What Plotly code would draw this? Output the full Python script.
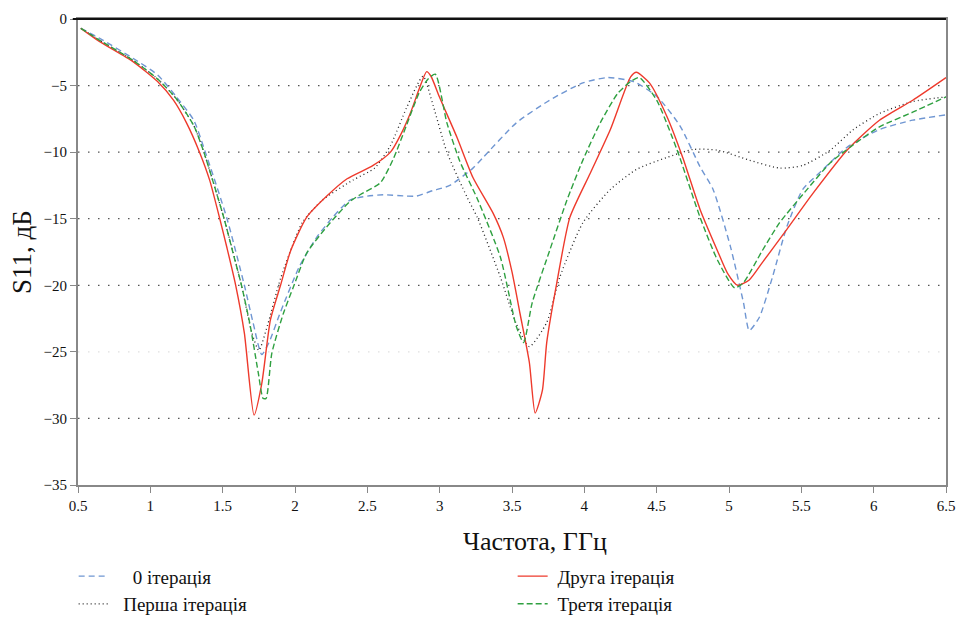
import plotly.graph_objects as go

# ---------------- data ----------------
f_blue = [0.52, 0.65, 0.88, 1.05, 1.18, 1.30, 1.38, 1.53, 1.65, 1.71, 1.77, 1.82, 1.90, 2.03, 2.15, 2.26, 2.38,
          2.50, 2.61, 2.77, 2.84, 2.95, 3.07, 3.23, 3.30, 3.53, 3.76, 3.99, 4.16, 4.34, 4.50, 4.66, 4.80, 4.89,
          5.01, 5.10, 5.14, 5.21, 5.30, 5.40, 5.51, 5.65, 5.82, 6.04, 6.27, 6.50]
s_blue = [-0.7, -1.45, -2.95, -4.2, -5.85, -7.6, -10.0, -15.0, -20.0, -22.8, -25.2, -24.3, -22.0, -18.6, -16.4, -14.9, -13.6,
          -13.3, -13.2, -13.3, -13.3, -12.9, -12.5, -11.2, -10.4, -7.8, -6.1, -4.8, -4.4, -4.7, -5.8, -8.0, -11.1, -12.8,
          -17.1, -21.3, -23.4, -22.4, -19.4, -15.6, -12.8, -11.3, -9.6, -8.3, -7.6, -7.2]

f_black = [0.52, 0.65, 0.88, 1.05, 1.18, 1.30, 1.37, 1.51, 1.63, 1.70, 1.75, 1.81, 1.90, 2.05, 2.19, 2.40, 2.55,
           2.66, 2.77, 2.885, 2.955, 3.05, 3.19, 3.26, 3.42, 3.53, 3.62, 3.74, 3.83, 3.99, 4.18, 4.36, 4.57, 4.75,
           4.92, 5.14, 5.35, 5.51, 5.70, 5.86, 6.04, 6.27, 6.50]
s_black = [-0.7, -1.6, -3.1, -4.5, -6.0, -8.0, -10.0, -15.0, -20.0, -23.5, -24.9, -23.0, -19.5, -15.3, -13.6, -12.1, -11.2,
           -9.5, -6.7, -4.3, -6.5, -10.0, -13.4, -14.9, -19.4, -22.9, -24.6, -22.8, -19.4, -15.3, -12.8, -11.3, -10.4, -9.8,
           -9.85, -10.6, -11.2, -11.0, -9.85, -8.3, -7.1, -6.2, -5.85]

f_red = [0.52, 0.65, 0.88, 1.05, 1.16, 1.25, 1.34, 1.41, 1.48, 1.53, 1.59, 1.65, 1.717, 1.77, 1.83, 1.90, 1.97, 2.08,
         2.22, 2.36, 2.54, 2.66, 2.73, 2.80, 2.86, 2.91, 2.94, 3.00, 3.12, 3.23, 3.37, 3.44, 3.50, 3.555, 3.62, 3.66,
         3.71, 3.74, 3.81, 3.90, 4.04, 4.18, 4.32, 4.36, 4.45, 4.57, 4.68, 4.80, 4.92, 4.99, 5.06, 5.14, 5.23, 5.40,
         5.58, 5.82, 6.04, 6.27, 6.50]
s_red = [-0.7, -1.7, -3.2, -4.7, -6.1, -7.8, -10.0, -12.1, -15.0, -17.2, -20.0, -23.6, -29.75, -27.4, -22.6, -20.0, -17.4, -14.9,
         -13.3, -12.0, -11.0, -10.0, -8.7, -7.0, -5.2, -3.95, -4.3, -5.9, -8.9, -11.9, -14.6, -16.4, -19.0, -22.1, -25.8, -29.6,
         -27.9, -24.3, -19.8, -14.9, -11.6, -8.3, -4.35, -4.0, -4.8, -7.3, -10.4, -14.3, -17.4, -19.1, -20.0, -19.6, -18.3, -15.8,
         -13.1, -9.8, -7.6, -6.1, -4.4]

f_green = [0.52, 0.65, 0.88, 1.05, 1.18, 1.30, 1.37, 1.51, 1.57, 1.63, 1.69, 1.745, 1.78, 1.80, 1.84, 1.92, 1.99, 2.08,
           2.22, 2.38, 2.45, 2.59, 2.68, 2.77, 2.86, 2.92, 2.97, 3.05, 3.14, 3.26, 3.42, 3.53, 3.58, 3.64, 3.76, 3.88,
           3.99, 4.11, 4.23, 4.32, 4.38, 4.50, 4.64, 4.80, 4.92, 5.04, 5.10, 5.23, 5.35, 5.54, 5.70, 5.84, 6.04, 6.27, 6.50]
s_green = [-0.7, -1.6, -3.1, -4.5, -6.0, -8.0, -10.0, -15.0, -17.5, -20.0, -23.0, -26.5, -28.5, -28.5, -25.1, -22.1, -20.1, -17.6,
           -15.6, -13.7, -13.2, -12.3, -10.5, -8.0, -5.5, -4.5, -4.15, -7.8, -10.7, -13.5, -17.9, -23.1, -24.3, -21.3, -17.4, -13.6,
           -10.6, -7.8, -5.6, -4.7, -4.4, -6.1, -9.8, -14.9, -18.1, -20.2, -19.8, -17.4, -15.3, -12.8, -10.8, -9.6, -8.1, -7.0, -5.85]

names = ["    0 ітерація", "  Перша ітерація", " Друга ітерація", " Третя ітерація"]
x_ticks = [0.5, 1, 1.5, 2, 2.5, 3, 3.5, 4, 4.5, 5, 5.5, 6, 6.5]
y_ticks = [0, -5, -10, -15, -20, -25, -30, -35]
grid_vals = [-5, -10, -15, -20, -25, -30]

FONT = "Liberation Serif, Times New Roman, serif"

fig = go.Figure()
fig.add_trace(go.Scatter(x=f_blue, y=s_blue, mode="lines", name=names[0], legendrank=1,
                         line=dict(color="#6f96d2", width=1.4, dash="6px,4px", shape="spline", smoothing=0.6)))
fig.add_trace(go.Scatter(x=f_black, y=s_black, mode="lines", name=names[1], legendrank=3,
                         line=dict(color="#222222", width=1.3, dash="1px,3px", shape="spline", smoothing=0.6)))
fig.add_trace(go.Scatter(x=f_red, y=s_red, mode="lines", name=names[2], legendrank=2,
                         line=dict(color="#ee3a2c", width=1.4, shape="spline", smoothing=0.6)))
fig.add_trace(go.Scatter(x=f_green, y=s_green, mode="lines", name=names[3], legendrank=4,
                         line=dict(color="#2fa040", width=1.4, dash="6px,3px", shape="spline", smoothing=0.6)))

shapes = []
for v in grid_vals:
    shapes.append(dict(type="line", xref="paper", x0=0, x1=1, yref="y", y0=v, y1=v, layer="below",
                       line=dict(color="#e0e0e0" if v == -25 else "#555555", width=1.2, dash="1.5px,8.5px")))
shapes.append(dict(type="line", xref="paper", x0=-0.006, x1=1, yref="paper", y0=1, y1=1,
                   line=dict(color="#111111", width=2)))
fig.update_layout(shapes=shapes)

fig.update_layout(
    width=961, height=619,
    margin=dict(l=78, r=15, t=19, b=134, autoexpand=False),
    paper_bgcolor="white", plot_bgcolor="white",
    font=dict(family=FONT, color="#111111", size=14),
    showlegend=True,
    legend=dict(orientation="h", x=-0.005, y=-0.155, xanchor="left", yanchor="top",
                entrywidth=394, entrywidthmode="pixels", traceorder="normal",
                font=dict(family=FONT, size=19, color="#111111"), tracegroupgap=0,
                itemwidth=30, bgcolor="rgba(0,0,0,0)"),
    xaxis=dict(range=[0.5, 6.5], tickvals=x_ticks, ticktext=[str(t) for t in x_ticks],
               showgrid=False, zeroline=False, showline=True, linecolor="#888888", linewidth=2,
               mirror=True, ticks="outside", ticklen=6, tickcolor="#888888",
               tickfont=dict(family=FONT, size=15)),
    yaxis=dict(range=[-35, 0], tickvals=y_ticks, showgrid=False, zeroline=False,
               showline=True, linecolor="#888888", linewidth=2, mirror=True,
               ticks="outside", ticklen=6, tickcolor="#888888",
               tickfont=dict(family=FONT, size=15)),
    annotations=[
        dict(text="Частота, ГГц", xref="paper", yref="paper", x=(535 - 78) / 868, y=(485 - 541) / 466,
             showarrow=False, font=dict(family=FONT, size=26), xanchor="center", yanchor="middle"),
        dict(text="S11, дБ", xref="paper", yref="paper", x=(22 - 78) / 868, y=(485 - 252) / 466,
             showarrow=False, font=dict(family=FONT, size=27), textangle=-90,
             xanchor="center", yanchor="middle"),
    ],
)

fig.write_html("out.html")
